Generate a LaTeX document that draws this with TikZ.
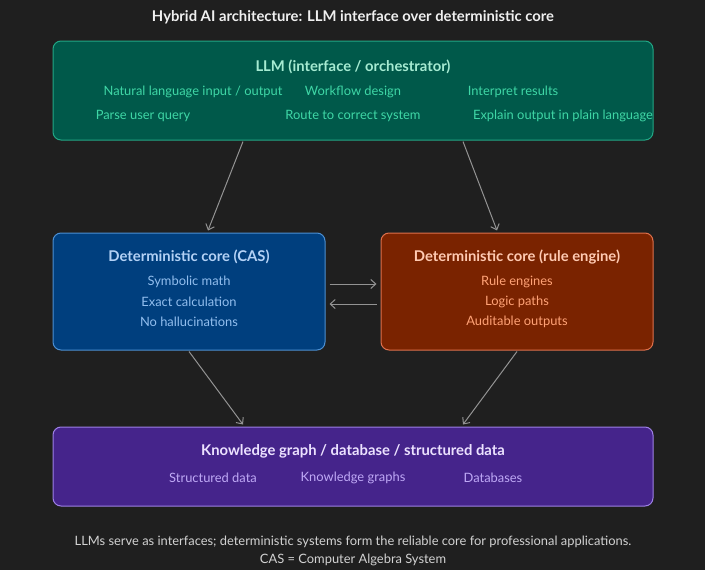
\documentclass[tikz,border=0pt]{standalone}
\usepackage{fontspec}
\setmainfont{Lato}
\usepackage{xcolor}
\usepackage{tikz}
\usetikzlibrary{arrows.meta,positioning,calc}

\definecolor{bgdark}{HTML}{1F1F1F}
\definecolor{llmfill}{HTML}{00594A}
\definecolor{llmline}{HTML}{22A785}
\definecolor{llmhead}{HTML}{A6EBD2}
\definecolor{llmtext}{HTML}{3FD7A6}
\definecolor{casfill}{HTML}{003F7E}
\definecolor{casline}{HTML}{4C8FD2}
\definecolor{cashead}{HTML}{B4D2F6}
\definecolor{castext}{HTML}{92BEEE}
\definecolor{rulefill}{HTML}{7A2300}
\definecolor{ruleline}{HTML}{DE704C}
\definecolor{rulehead}{HTML}{FFCAB2}
\definecolor{ruletext}{HTML}{FFA276}
\definecolor{kgfill}{HTML}{45248B}
\definecolor{kgline}{HTML}{9E80E6}
\definecolor{kghead}{HTML}{ECE2FF}
\definecolor{kgtext}{HTML}{BFA9F6}
\definecolor{arrowgray}{HTML}{939393}
\definecolor{notegray}{HTML}{D2D2D2}

\tikzset{
	box/.style={draw, line width=1pt, rounded corners=8pt, inner sep=0pt},
	head/.style={font=\fontsize{14.8}{16}\selectfont\bfseries, yshift=-1pt},
	item/.style={font=\fontsize{12.9}{14}\selectfont, yshift=-1.5pt},
	flow/.style={draw=arrowgray, line width=1pt, -{Straight Barb[length=5pt,width=9pt]}},
}

\begin{document}
\begin{tikzpicture}[x=1pt,y=-1pt]
		\fill[bgdark] (0,0) rectangle (705,570);
		\useasboundingbox (0,0) rectangle (705,570);

		\node[head, text=white!94!black] (title) at (353,16) {Hybrid AI architecture: LLM interface over deterministic core};

		% LLM layer
		\node[box, fill=llmfill, draw=llmline, minimum width=600pt, minimum height=99pt] (llm) at (353,90.5) {};
		\node[head, text=llmhead] (llmh) at (353,66) {LLM (interface / orchestrator)};
		\node[item, text=llmtext] (l1) at (193,90) {Natural language input / output};
		\node[item, text=llmtext] (l2) at (353,90) {Workflow design};
		\node[item, text=llmtext] (l3) at (513,90) {Interpret results};
		\node[item, text=llmtext] (l4) at (143,114) {Parse user query};
		\node[item, text=llmtext] (l5) at (353,114) {Route to correct system};
		\node[item, text=llmtext] (l6) at (563,114) {Explain output in plain language};

		% deterministic cores
		\node[box, fill=casfill, draw=casline, minimum width=272pt, minimum height=117pt] (cas) at (189,291.5) {};
		\node[head, text=cashead] (cash) at (189,256) {Deterministic core (CAS)};
		\node[item, text=castext] (c1) at (189,280) {Symbolic math};
		\node[item, text=castext] (c2) at (189,300) {Exact calculation};
		\node[item, text=castext] (c3) at (189,320) {No hallucinations};

		\node[box, fill=rulefill, draw=ruleline, minimum width=272pt, minimum height=117pt] (rule) at (517,291.5) {};
		\node[head, text=rulehead] (ruleh) at (517,256) {Deterministic core (rule engine)};
		\node[item, text=ruletext] (r1) at (517,280) {Rule engines};
		\node[item, text=ruletext] (r2) at (517,300) {Logic paths};
		\node[item, text=ruletext] (r3) at (517,320) {Auditable outputs};

		% data layer
		\node[box, fill=kgfill, draw=kgline, minimum width=600pt, minimum height=79pt] (kg) at (353,466.5) {};
		\node[head, text=kghead] (kgh) at (353,450) {Knowledge graph / database / structured data};
		\node[item, text=kgtext] (k1) at (213,476) {Structured data};
		\node[item, text=kgtext] (k2) at (353,476) {Knowledge graphs};
		\node[item, text=kgtext] (k3) at (493,476) {Databases};

		% connectors
		\draw[flow] ([xshift=-110pt,yshift=-1pt]llm.south) -- ([xshift=19pt,yshift=2pt]cas.north);
		\draw[flow] ([xshift=110pt,yshift=-1pt]llm.south) -- ([xshift=-20pt,yshift=2pt]rule.north);
		\draw[flow] ([xshift=4pt,yshift=7.5pt]cas.east) -- ([xshift=-4pt,yshift=7.5pt]rule.west);
		\draw[flow] ([xshift=-4pt,yshift=-12.5pt]rule.west) -- ([xshift=4pt,yshift=-12.5pt]cas.east);
		\draw[flow] ([yshift=-1pt]cas.south) -- ([xshift=-110pt,yshift=2pt]kg.north);
		\draw[flow] ([yshift=-1pt]rule.south) -- ([xshift=110pt,yshift=2pt]kg.north);

		\node[item, text=notegray] (note1) at (353,540) {LLMs serve as interfaces; deterministic systems form the reliable core for professional applications.};
		\node[item, text=notegray] (note2) at (353,558) {CAS = Computer Algebra System};
	\end{tikzpicture}
\end{document}
